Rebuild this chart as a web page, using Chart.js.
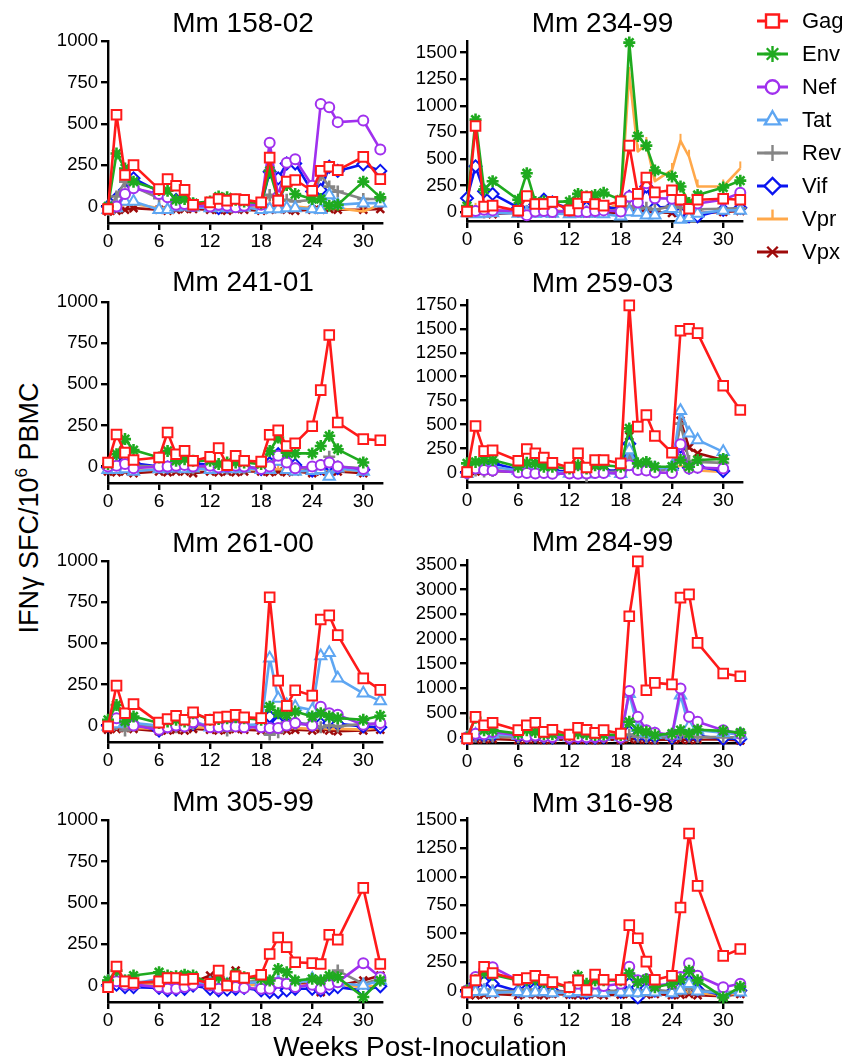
<!DOCTYPE html>
<html>
<head>
<meta charset="utf-8">
<script src="https://cdn.jsdelivr.net/npm/chart.js@4.4.1/dist/chart.umd.min.js"></script>
<style>
  body { margin: 0; background: #fff; }
  #fig { position: relative; width: 846px; height: 1062px; overflow: hidden;
         font-family: 'Liberation Sans', Arial, Helvetica, sans-serif; color: #000; }
  #fig canvas { position: absolute; }
  .ttl { position: absolute; width: 300px; height: 28px; text-align: center;
         font-size: 28px; line-height: 28px; white-space: nowrap; }
  .ytitle { font-size: 27px; transform: rotate(-90deg); }
  .ytitle sup { font-size: 17px; vertical-align: baseline; position: relative; top: -11px; }
</style>
</head>
<body>
<div id="fig">
  <div class="ttl ytitle" style="left:-121px; top:494px;">IFN&gamma; SFC/10<sup>6</sup> PBMC</div>
  <div class="ttl" style="left:270px; top:1033px;">Weeks Post-Inoculation</div>
</div>
<script>
// weeks sampled, same for every animal
const weeks = [0, 1, 2, 3, 6, 7, 8, 9, 10, 12, 13, 14, 15, 16, 18, 19, 20, 21, 22, 24, 25, 26, 27, 30, 32];
const antigens = ['Gag', 'Env', 'Nef', 'Tat', 'Rev', 'Vif', 'Vpr', 'Vpx'];
const xTicks = [0, 6, 12, 18, 24, 30];

// rows follow the antigens order: Gag, Env, Nef, Tat, Rev, Vif, Vpr, Vpx
const mm15802 = [
  [-15, 555, 190, 250, 105, 165, 125, 100, 10, 25, 45, 35, 45, 40, 25, 295, 35, 150, 160, 95, 215, 240, 220, 300, 165],
  [0, 320, 230, 150, 100, 95, 40, 45, 20, 30, 60, 55, 40, 30, 20, 215, 40, 130, 75, 45, 45, 5, 10, 150, 55],
  [-10, 0, 75, 110, 75, 55, 10, 15, 5, 0, 10, 5, -5, 5, 10, 385, 60, 265, 285, 125, 620, 600, 510, 520, 345],
  [-20, -10, 30, 30, -20, -20, -5, 0, -5, -10, -5, -10, -10, -5, -20, -15, -15, -10, -10, -15, -20, 70, 10, 20, 20],
  [-20, 60, 150, 120, 50, 60, 30, 30, 10, 10, 20, 15, 20, 15, 10, 70, 20, 40, 30, 40, 190, 120, 90, 45, 45],
  [0, 50, 100, 170, 90, 60, 40, 30, 10, 10, -10, 0, 10, 10, 10, 210, 170, 260, 260, 90, 100, 240, 215, 255, 215],
  [-20, -10, 10, 15, -10, -10, 0, 0, -5, -5, -5, 0, -10, -5, 0, -10, -10, -5, 0, -10, -15, -10, -10, -30, 10],
  [-30, -25, -20, -10, -20, -25, -20, -15, -15, -20, -20, -25, -15, -20, -25, -20, -15, -20, -25, -20, -20, -15, -20, -20, -15]
];
const mm23499 = [
  [5, 810, 50, 60, 12, 150, 75, 75, 95, 15, 80, 140, 75, 60, 100, 625, 170, 325, 185, 205, 115, 30, 115, 125, 115],
  [55, 870, 210, 290, 115, 365, 95, 100, 95, 100, 170, 145, 160, 180, 115, 1595, 715, 625, 390, 335, 240, 85, 160, 230, 295],
  [15, 10, 20, 15, 10, -30, 5, 10, 0, 10, 5, 0, 10, 15, 5, 145, 90, 270, 130, 125, 110, 60, 80, 115, 180],
  [-10, -20, -15, -10, -15, -10, -15, -10, -15, -20, -15, -10, -15, -20, -40, 0, -5, -30, -30, 30, -70, -55, -15, 15, 15],
  [0, 10, -5, 10, 0, 10, 5, 10, 5, 0, 10, 5, 0, 10, 20, 55, 30, 40, 20, 55, 40, 30, 25, 30, 35],
  [130, 430, 195, 170, 40, 80, 70, 115, 90, 30, 50, 40, 35, 45, 30, 145, 50, 240, 40, 50, -10, -40, -40, 20, 40],
  [20, 20, 10, 15, 10, 20, 15, 10, 15, 5, 10, 10, 10, 15, 85, 1300, 570, 640, 290, 395, 670, 520, 240, 240, 410],
  [10, 0, -10, -20, -5, -10, -5, -10, -15, -10, -15, -15, -10, -5, -10, 20, 10, 5, 0, -10, -50, -30, -10, 0, 10]
];
const mm24101 = [
  [25, 195, 85, 40, 55, 207, 75, 95, 35, 60, 112, 8, 65, 35, 30, 193, 220, 125, 142, 245, 465, 800, 268, 167, 160],
  [15, 75, 167, 100, 55, 95, 35, 45, 35, 35, 15, 25, 25, 25, 15, 95, 177, 85, 80, 80, 125, 187, 105, 25, null],
  [0, 5, 15, -10, 0, 0, 5, 10, 0, 5, -5, 0, 5, 0, -15, 0, 65, 25, -10, 0, 10, 25, 0, -15, null],
  [-20, -20, -15, -30, -15, -10, -10, -15, -10, -20, -15, -10, -15, -10, -20, -20, 30, -20, -30, -25, -20, -60, -10, -30, null],
  [-10, -5, 0, 5, 0, -5, 5, 0, -10, -10, 0, -10, -5, -10, -5, 5, 40, 10, -10, -10, 10, 60, 0, -10, null],
  [-5, 30, 35, 20, 0, -5, 10, 30, 20, 10, 0, -5, 0, 0, -15, 20, 75, 30, 10, -25, -10, 10, -10, -20, null],
  [-20, -20, -15, -20, -20, -15, -20, -15, -20, -15, -10, -20, -15, -20, -20, -20, -15, -20, -20, -20, -15, -20, -20, -25, null],
  [-30, -35, -30, -40, -30, -35, -30, -30, -40, -30, -35, -30, -35, -30, -30, -35, -30, -35, -30, -40, -30, -35, -30, -40, null]
];
const mm25903 = [
  [5, 485, 223, 230, 122, 245, 200, 155, 100, 52, 200, 52, 130, 130, 95, 1745, 478, 600, 380, 205, 1480, 1500, 1455, 905, 652],
  [95, 110, 130, 130, 60, 100, 95, 60, 60, 40, 75, 40, 75, 75, 60, 460, 95, 110, 60, 60, 130, 60, 130, 140, null],
  [-5, 40, 25, 20, 0, -5, -10, -5, -15, -10, -15, -10, -5, -5, -10, 75, 25, 20, 0, -5, 295, 40, 50, 40, null],
  [-15, 30, 60, 60, 20, 30, 40, 20, 10, -10, 0, -20, -10, 0, -15, 235, 60, 80, 40, 60, 645, 410, 340, 215, null],
  [-10, 20, 10, 15, 10, 20, 15, 10, 5, 0, 10, -40, 0, 5, 10, 200, 30, 40, 20, 30, 510, 120, 110, 100, null],
  [0, 60, 95, 95, 30, 60, 70, 40, 20, 10, 20, 10, 15, 20, 20, 300, 60, 50, 30, 40, 270, 50, 60, 15, null],
  [0, 20, 20, 25, 10, 20, 15, 10, 5, 0, 10, 5, 10, 5, 10, 150, 30, 40, 30, 30, 75, 20, 20, 5, null],
  [-10, 10, 20, 15, 5, 10, 10, 5, 0, -5, 0, -10, 0, 0, 0, 380, 40, 60, 20, 30, 540, 260, 200, 130, null]
];
const mm26100 = [
  [-5, 243, 75, 130, 18, 40, 60, 35, 80, 35, 50, 55, 65, 50, 45, 780, 273, 120, 215, 182, 645, 670, 550, 287, 217],
  [35, 125, 25, 55, 15, 25, 35, 25, 75, 35, 40, 45, 50, 45, 35, 115, 75, 65, 85, 55, 75, 55, 45, 35, 60],
  [0, 45, 35, 0, -25, -10, 0, -5, 20, -10, -10, -5, -5, -10, -10, -15, -15, 0, 15, 0, 115, 75, 65, 5, 15],
  [-5, 10, 20, 15, 0, 5, 10, 5, 30, -10, 10, 5, 10, 5, 5, 410, 165, 125, 115, 95, 423, 443, 287, 196, 150],
  [0, 10, -30, 0, -10, 0, -10, -5, 10, -5, 0, -30, 0, 0, -5, -55, -40, 20, 10, 10, -10, 0, -5, 10, 10],
  [0, 20, 60, 10, -30, -5, 5, 0, 10, 0, 5, 0, 5, 0, 5, 55, 20, 10, 15, 5, 10, 15, 10, -5, -10],
  [-15, -10, -10, -15, -20, -15, -20, -15, -10, -15, -10, -15, -10, -15, -15, -20, -20, -15, -15, -20, -15, -20, -20, -25, -10],
  [-25, -20, -15, -20, -35, -30, -25, -30, -20, -25, -30, -25, -20, -25, -30, -30, -25, -30, -25, -30, -20, -30, -35, -30, -25]
];
const mm28499 = [
  [-20, 420, 250, 300, 150, 250, 300, 115, 160, 60, 200, 160, 95, 150, 80, 2460, 3575, 960, 1110, 1080, 2840, 2905, 1920, 1300, 1245],
  [0, 400, 150, 150, 80, 150, 115, 70, 70, 50, 90, 70, 50, 60, 50, 320, 150, 115, 50, 80, 150, 80, 160, 135, 100],
  [0, 80, 70, 115, 50, 20, 40, 20, 10, 0, 10, 5, 10, 20, 0, 945, 420, 150, 100, 50, 995, 420, 320, 150, 80],
  [-10, 60, 50, 70, 40, 40, 60, 30, 20, 10, 30, 20, 10, 20, 10, 890, 200, 100, 60, 40, 860, 220, 150, 100, 60],
  [0, 20, 10, 20, 10, 10, 20, 10, 0, 0, 10, 0, 0, 10, 0, 60, 20, 10, 0, 10, 60, 20, 10, 10, 0],
  [-10, 40, 30, 40, 20, 20, 30, 10, 0, -10, 10, 0, 0, 10, 0, 115, 40, 20, 10, 0, 90, 40, 30, -20, -30],
  [0, 20, 20, 20, 10, 10, 10, 0, 0, -10, 0, 0, -10, 0, 0, 30, 10, 0, 0, 0, 20, 10, 0, 0, -10],
  [-60, -40, -40, -30, -50, -40, -40, -50, -40, -50, -40, -40, -50, -40, -50, -30, -40, -40, -50, -40, -40, -50, -40, -40, -60]
];
const mm30599 = [
  [-10, 115, 25, 15, 25, 45, 45, 35, 40, 10, 90, 0, 55, 45, 65, 190, 290, 232, 140, 135, 130, 307, 277, 590, 130],
  [30, 90, 30, 60, 80, 60, 55, 65, 60, 10, 50, 10, 70, 50, 40, 30, 100, 80, 30, 40, 30, 60, 50, -70, 30],
  [5, 25, 5, 5, -10, -20, -20, -10, 5, 0, -20, 0, -10, -15, -20, -20, 15, 10, -10, 5, -20, 5, 20, 135, 50],
  [20, 30, 20, 10, 40, 30, 25, 30, 20, 10, 15, 5, 10, 15, 20, 10, 20, 15, 10, 40, 20, 30, 15, 0, 30],
  [30, 40, 20, 20, 20, 15, 20, 10, 30, 20, 20, 10, 30, 20, 30, 20, 40, 30, 20, 30, 20, 40, 90, 10, 40],
  [0, 5, -10, -10, -15, -30, -25, -20, 0, -20, -30, -25, -20, -15, -30, -40, -40, -30, -20, -20, -30, -20, -10, -30, -5],
  [10, 10, 5, 5, 5, 0, 0, 5, 10, 0, 5, 0, 5, 0, 5, 0, 10, 5, 0, 5, 0, 10, 5, -10, 0],
  [-10, 10, 0, 0, 10, 10, 20, 10, 20, 60, 30, 20, 90, 20, 10, 0, 20, 10, 0, 20, -40, 10, 0, 30, 60]
];
const mm31698 = [
  [-15, 90, 210, 155, 95, 110, 130, 95, 75, 30, 90, 5, 140, 95, 95, 575, 460, 255, 95, 130, 730, 1380, 920, 305, 365],
  [0, 90, 160, 140, 90, 90, 100, 75, 60, 30, 130, 60, 90, 90, 90, 150, 75, 100, 30, 60, 100, 175, 90, -60, 35],
  [0, 120, 175, 205, 90, 100, 120, 90, 65, 30, 60, 20, 60, 40, 60, 210, 90, 100, 45, 60, 120, 240, 130, 30, 60],
  [-20, -10, -5, -20, -10, -20, -15, -10, -20, -20, -10, -20, -15, -20, -15, -15, -20, -10, -15, -20, 0, 60, -5, -20, -15],
  [-10, 0, 10, 0, -5, 10, 5, 0, -10, -5, 0, -10, 0, -5, 0, 0, -10, 0, 5, -5, 10, 20, 5, -20, 0],
  [-10, 60, 75, 60, -5, 10, 20, 10, 0, -10, 0, -20, 10, 0, -10, 60, -60, 20, 0, -10, 30, 80, 10, -40, 0],
  [-20, -15, -10, -15, -15, -20, -15, -20, -15, -20, -10, -15, -20, -15, -15, -20, -20, -15, -20, -15, -10, -15, -20, -40, -20],
  [-30, -40, -35, -30, -40, -30, -35, -40, -30, -35, -40, -35, -30, -40, -35, -30, -40, -35, -30, -40, -35, -30, -40, -50, -30]
];

// y tick labels
const ticks1000 = [0, 250, 500, 750, 1000];
const ticks1500 = [0, 250, 500, 750, 1000, 1250, 1500];
const ticks1750 = [0, 250, 500, 750, 1000, 1250, 1500, 1750];
const ticks3500 = [0, 500, 1000, 1500, 2000, 2500, 3000, 3500];

// series styling
const colors = ['#ff1a1a', '#1faa1f', '#a030ee', '#5ea6f2', '#858585', '#0a14f0', '#ffa84a', '#9e0a0a'];
const markers = ['rect', 'star', 'circle', 'triangle', 'cross', 'rectRot', 'dash', 'crossRot'];
const radii = [6.8, 6, 5, 6.5, 6, 6, 7, 5.5];
const rotations = [0, 0, 0, 0, 0, 0, -90, 0];

// panel placement (plot area in page pixels)
const panels = [
  { title: 'Mm 158-02', vals: mm15802, yTicks: ticks1000, yMin: -100, yMax: 1000, l: 108, t: 41, r: 382, b: 223, tm: 23 },
  { title: 'Mm 234-99', vals: mm23499, yTicks: ticks1500, yMin: -85, yMax: 1610, l: 467, t: 41, r: 742, b: 221, tm: 23, legend: true },
  { title: 'Mm 241-01', vals: mm24101, yTicks: ticks1000, yMin: -100, yMax: 1000, l: 108, t: 302, r: 382, b: 483, tm: 282 },
  { title: 'Mm 259-03', vals: mm25903, yTicks: ticks1750, yMin: -100, yMax: 1800, l: 467, t: 300, r: 742, b: 482, tm: 283 },
  { title: 'Mm 261-00', vals: mm26100, yTicks: ticks1000, yMin: -100, yMax: 1000, l: 108, t: 561, r: 382, b: 742, tm: 543 },
  { title: 'Mm 284-99', vals: mm28499, yTicks: ticks3500, yMin: -110, yMax: 3600, l: 467, t: 560, r: 742, b: 743, tm: 542 },
  { title: 'Mm 305-99', vals: mm30599, yTicks: ticks1000, yMin: -100, yMax: 1000, l: 108, t: 820, r: 382, b: 1002, tm: 802 },
  { title: 'Mm 316-98', vals: mm31698, yTicks: ticks1500, yMin: -100, yMax: 1515, l: 467, t: 818, r: 742, b: 1002, tm: 803 }
];

Chart.defaults.font.family = "'Liberation Sans', Arial, Helvetica, sans-serif";
Chart.defaults.color = '#000';

const Y_AXIS_W = 60;
const X_AXIS_H = 32;

// legend drawn next to the Mm 234-99 panel
function makeLegend(canvasLeft, canvasTop) {
  return {
    id: 'sideLegend',
    afterDraw(chart) {
      const ctx = chart.ctx;
      const x0 = 757 - canvasLeft, x1 = 788 - canvasLeft;
      ctx.save();
      antigens.forEach((name, k) => {
        const y = 21 + k * 33 - canvasTop;
        ctx.strokeStyle = colors[k];
        ctx.lineWidth = 3;
        ctx.beginPath();
        ctx.moveTo(x0, y);
        ctx.lineTo(x1, y);
        ctx.stroke();
        ctx.fillStyle = '#fff';
        ctx.lineWidth = 2.4;
        Chart.helpers.drawPoint(ctx, {
          pointStyle: markers[k], radius: radii[k] * 1.35, rotation: rotations[k], borderWidth: 2.4
        }, (x0 + x1) / 2, y);
        ctx.fillStyle = '#000';
        ctx.font = "22px 'Liberation Sans', Arial, sans-serif";
        ctx.textBaseline = 'middle';
        ctx.textAlign = 'left';
        ctx.fillText(name, 802 - canvasLeft, y + 1);
      });
      ctx.restore();
    }
  };
}

const fig = document.getElementById('fig');

panels.forEach(p => {
  const padTop = p.legend ? p.t : 14;
  const padRight = p.legend ? 846 - p.r : 14;
  const padBottom = p.legend ? 20 : 0;
  const left = p.l - Y_AXIS_W;
  const top = p.t - padTop;
  const width = (p.r - p.l) + Y_AXIS_W + padRight;
  const height = (p.b - p.t) + padTop + X_AXIS_H + padBottom;

  const title = document.createElement('div');
  title.className = 'ttl';
  title.textContent = p.title;
  title.style.left = ((p.l + p.r) / 2 - 152) + 'px';
  title.style.top = (p.tm - 14) + 'px';
  fig.appendChild(title);

  const cv = document.createElement('canvas');
  cv.width = width;
  cv.height = height;
  cv.style.left = left + 'px';
  cv.style.top = top + 'px';
  fig.insertBefore(cv, fig.firstChild);

  const datasets = antigens.map((name, k) => ({
    label: name,
    data: weeks.map((w, i) => ({ x: w, y: p.vals[k][i] })).filter(d => d.y !== null),
    borderColor: colors[k],
    borderWidth: 2.6,
    borderJoinStyle: 'round',
    pointStyle: markers[k],
    pointRadius: radii[k],
    pointRotation: rotations[k],
    pointBorderColor: colors[k],
    pointBackgroundColor: '#fff',
    pointBorderWidth: (markers[k] === 'star' || markers[k] === 'cross' || markers[k] === 'crossRot') ? 2.6 : 2,
    tension: 0,
    clip: false
  }));

  const axisLine = { display: true, color: '#000', width: 2.4 };
  const tickMarks = { display: true, drawOnChartArea: false, drawTicks: true, tickLength: 7, color: '#000', lineWidth: 2.4 };

  new Chart(cv, {
    type: 'line',
    data: { datasets },
    options: {
      responsive: false,
      animation: false,
      devicePixelRatio: 1,
      layout: { padding: { top: padTop, right: padRight, bottom: padBottom, left: 0 } },
      plugins: { legend: { display: false }, tooltip: { enabled: false } },
      scales: {
        x: {
          type: 'linear', min: 0, max: 32.2,
          afterBuildTicks: s => { s.ticks = xTicks.map(v => ({ value: v })); },
          afterFit: s => { s.height = X_AXIS_H; },
          border: axisLine,
          grid: tickMarks,
          ticks: { padding: 0, maxRotation: 0, font: { size: 19 }, callback: v => String(v) }
        },
        y: {
          type: 'linear', min: p.yMin, max: p.yMax,
          afterBuildTicks: s => { s.ticks = p.yTicks.map(v => ({ value: v })); },
          afterFit: s => { s.width = Y_AXIS_W; },
          border: axisLine,
          grid: tickMarks,
          ticks: { padding: 3, font: { size: 18.5 }, callback: v => String(v) }
        }
      }
    },
    plugins: p.legend ? [makeLegend(left, top)] : []
  });
});
</script>
</body>
</html>
